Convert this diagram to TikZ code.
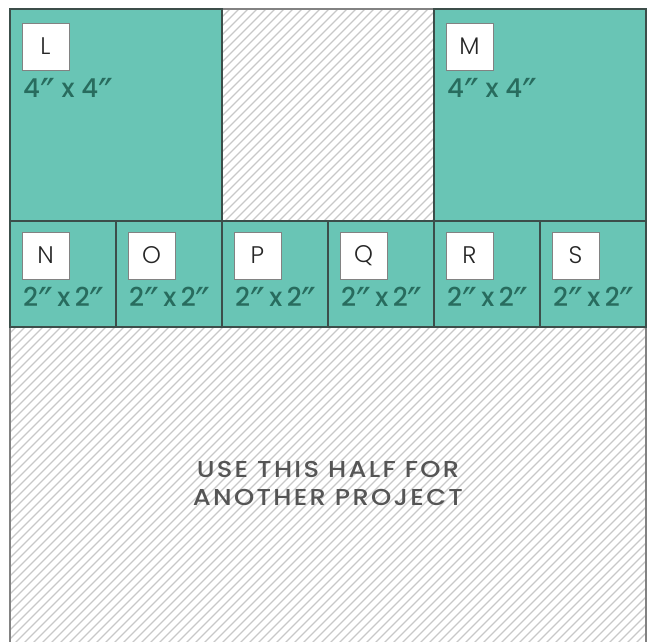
\documentclass[tikz,border=0pt]{standalone}
\usepackage{fontspec}
\setmainfont{Poppins}
\newfontfamily\medf{Poppins Medium}
\newfontfamily\medsp{Poppins Medium}[FakeStretch=1.12, LetterSpace=10]
\newfontfamily\lightf{Poppins Light}
\newfontfamily\primef{DejaVu Sans}
\newcommand{\dpr}{{\primef\fontsize{40}{40}\selectfont\raisebox{-10pt}{″}}}
\definecolor{teal1}{RGB}{105,197,181}
\definecolor{tealtxt}{RGB}{40,108,94}
\definecolor{cellline}{RGB}{60,78,74}
\definecolor{hatchc}{RGB}{200,200,200}
\definecolor{grayline}{RGB}{130,130,130}
\definecolor{graytxt}{RGB}{85,85,85}
\tikzset{
  cell/.style={draw=cellline, line width=1.3pt, fill=teal1, anchor=north west, inner sep=0pt, outer sep=0pt},
  labbox/.style={draw=grayline, line width=1pt, fill=white, minimum width=47pt, minimum height=47pt, inner sep=0pt, font=\lightf\fontsize{24}{24}\selectfont, text=black!85},
  sizetxt/.style={anchor=base west, inner sep=0pt, text=tealtxt, font=\medf\fontsize{26}{26}\selectfont},
  hatchline/.style={draw=hatchc, line width=1.1pt},
  hatcharea/.style={draw=grayline, line width=1.2pt, anchor=north west, inner sep=0pt, outer sep=0pt}
}
\begin{document}
\begin{tikzpicture}[x=1pt,y=-1pt]
\useasboundingbox (0,0) rectangle (649,641);
% hatched top middle
\node[hatcharea, minimum width=212pt, minimum height=212pt] (H1) at (222,9) {};
\begin{scope}
  \clip (222,9) rectangle (434,221);
  \foreach \i in {0,...,50} \draw[hatchline] (\i*9, 221) -- ++(220,-220);
\end{scope}
% hatched bottom
\begin{scope}
  \clip (10,327) rectangle (646,645);
  \foreach \i in {0,...,110} \draw[hatchline] (\i*9-320, 645) -- ++(330,-330);
\end{scope}
\draw[grayline, line width=1.2pt] (10,327) -- (10,645) (646,327) -- (646,645);
\draw[grayline, line width=1.2pt] (222,9) -- (434,9);
% big cells
\node[cell, minimum width=212pt, minimum height=212pt] (L) at (10,9) {};
\node[cell, minimum width=212pt, minimum height=212pt] (M) at (434,9) {};
% small cells
\foreach \n [count=\k from 0] in {N,O,P,Q,R,S}
  \node[cell, minimum width=106pt, minimum height=106pt] (\n) at (10+\k*106,221) {};
% labels
\node[labbox] (Lb) at (45.5,46.5) {L};
\node[sizetxt] (Ls) at (23,97) {4\dpr{} x 4\dpr};
\node[labbox] (Mb) at (469.5,46.5) {M};
\node[sizetxt] (Ms) at (447,97) {4\dpr{} x 4\dpr};
\foreach \n [count=\k from 0] in {N,O,P,Q,R,S} {
  \node[labbox] (\n b) at (45.5+\k*106,255.5) {\n};
  \node[sizetxt] (\n s) at (23+\k*106,306) {2\dpr\,x\,2\dpr};
}
\node[align=center, text=graytxt, font=\medsp\fontsize{23}{28}\selectfont, inner sep=0pt] (T) at (328,483) {USE THIS HALF FOR\\ANOTHER PROJECT};
\end{tikzpicture}
\end{document}
